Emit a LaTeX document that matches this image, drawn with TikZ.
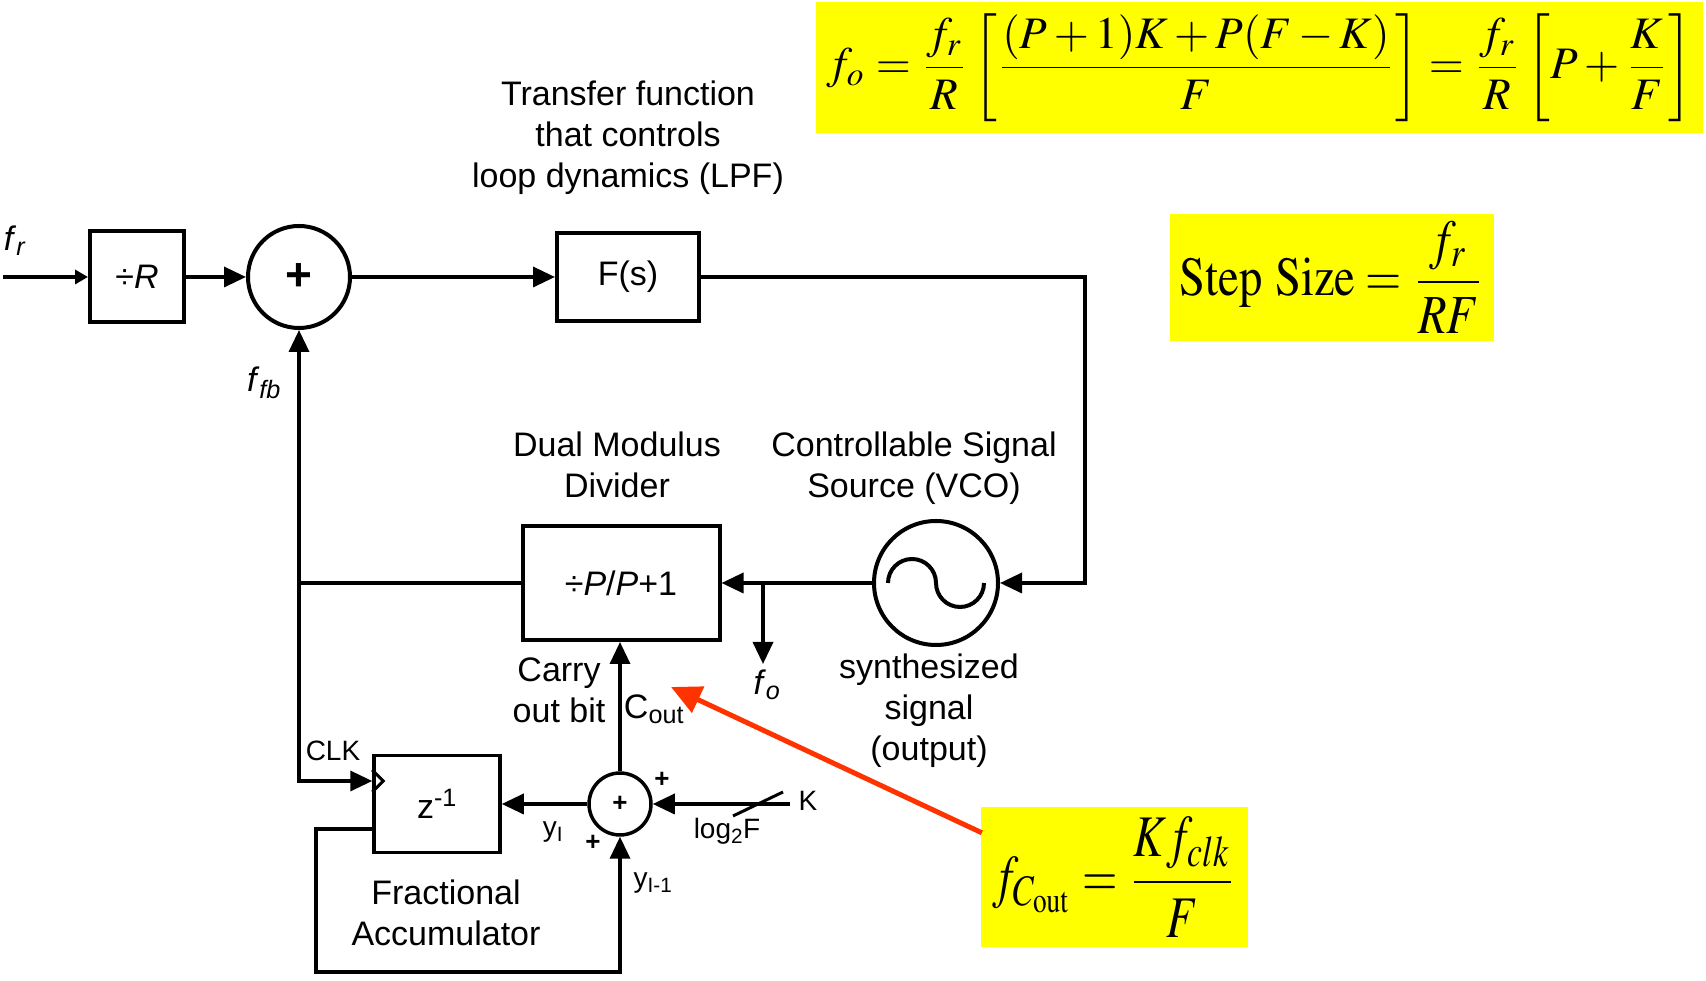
\documentclass[tikz,border=0pt]{standalone}
\usepackage{mathptmx}
\usepackage[no-math]{fontspec}
\setmainfont{Liberation Sans}
\usetikzlibrary{arrows.meta,calc,positioning}
\definecolor{noteyellow}{RGB}{255,255,0}
\definecolor{pointred}{RGB}{255,51,0}
\tikzset{
  blk/.style={rectangle, draw, line width=4pt, inner sep=0pt},
  sumnode/.style={circle, draw, line width=4pt, inner sep=0pt},
  wire/.style={line width=3.5pt},
  sig/.style={wire, -{Triangle[length=22pt,width=20pt]}},
  lbl/.style={font=\fontsize{34}{41}\selectfont, align=center, inner sep=0pt},
  smalllbl/.style={font=\fontsize{28}{32}\selectfont, inner sep=0pt},
  notebox/.style={fill=noteyellow, inner sep=0pt}
}

\begin{document}
\begin{tikzpicture}[x=1pt, y=1pt]
\useasboundingbox (0,0) rectangle (1706,981);
% yellow notes
\node[notebox, minimum width=887pt, minimum height=131pt] (eqfo) at (1259.5,913.5) {\resizebox*{866pt}{108pt}{$\displaystyle f_o=\frac{f_r}{R}\left[\frac{(P+1)K+P(F-K)}{F}\right]=\frac{f_r}{R}\left[P+\frac{K}{F}\right]$}};
\node[notebox, minimum width=324pt, minimum height=127pt] (eqstep) at (1332,703.5) {\resizebox*{305pt}{112pt}{$\displaystyle \mathrm{Step\ Size}=\frac{f_r}{RF}$}};
\node[notebox, minimum width=267pt, minimum height=140pt] (eqcout) at (1114.5,104) {\resizebox*{244pt}{120pt}{$\displaystyle f_{C_{\mathrm{out}}}=\frac{Kf_{clk}}{F}$}};

% blocks
\node[blk, lbl, minimum width=94pt, minimum height=91pt] (divR) at (137,704) {÷\textit{R}};
\node[sumnode, minimum size=102pt] (sum) at (299,704) {\fontsize{46}{46}\selectfont\bfseries +};
\node[blk, lbl, minimum width=142pt, minimum height=88pt] (Fs) at (628,704) {F(s)};
\node[sumnode, minimum size=124pt] (vco) at (936,398) {};
\node[blk, lbl, minimum width=197pt, minimum height=114pt] (div) at (621,398) {÷\textit{P}/\textit{P}+1};
\node[blk, lbl, line width=3.5pt, minimum width=126pt, minimum height=97pt] (zbox) at (437,177) {z\textsuperscript{-1}};
\node[sumnode, line width=3.5pt, minimum size=62pt] (acc) at (620,177) {\fontsize{26}{26}\selectfont\bfseries +};
\draw[line width=4pt] ($(vco.center)+(-48,0)$) arc[start angle=180, end angle=0, radius=24] arc[start angle=180, end angle=360, radius=24];

% free ends and corners
\coordinate (fin) at (3,704);
\coordinate (loopR) at (1085,398);
\coordinate (tap) at (763,398);
\coordinate (foend) at (763,317);
\coordinate (clkin) at ($(zbox.west)+(0,23)$);
\coordinate (zfb) at ($(zbox.west)+(0,-25)$);
\coordinate (kin) at (790,177);
\coordinate (cpoint) at (671,294);

% connectors
\draw[wire, -{Triangle[length=13pt,width=14pt]}] (fin) -- (divR.west);
\draw[sig] (divR.east) -- (sum.west);
\draw[sig] (sum.east) -- (Fs.west);
\draw[sig] (Fs.east) -| (loopR) -- (vco.east);
\draw[sig] (vco.west) -- (div.east);
\draw[sig] (tap) -- (foend);
\draw[sig] (div.west) -| (sum.south);
\draw[sig] (sum.south |- div.west) |- (clkin);
\draw[line width=3pt] ($(clkin)+(0,11)$) -- ++(11,-11) -- ++(-11,-11);
\draw[sig] (acc.west) -- (zbox.east);
\draw[sig] (zfb) -| (316,9) -| (acc.south);
\draw[sig] (kin) -- (acc.east);
\draw[sig] (acc.north) -- (acc.north |- div.south);
\draw[line width=3pt] ($(kin)+(-57,-12)$) -- ++(50,24);
\draw[pointred, line width=5pt, -{Triangle[length=30pt,width=28pt]}] ($(eqcout.north west)+(1,-26)$) -- (cpoint);

% labels
\node[lbl] (frlbl) at (15,740) {\textit{f}\textsubscript{\textit{r}}};
\node[lbl] (fblbl) at (264,598) {\textit{f}\textsubscript{\textit{fb}}};
\node[lbl] (folbl) at (767,296) {\textit{f}\textsubscript{\textit{o}}};
\node[lbl] (tflbl) at (628,843) {Transfer function\\that controls\\loop dynamics (LPF)};
\node[lbl] (dmlbl) at (617,516) {Dual Modulus\\Divider};
\node[lbl] (vcolbl) at (914,513) {Controllable Signal\\Source (VCO)};
\node[lbl] (synlbl) at (929,270) {synthesized\\signal\\(output)};
\node[lbl] (carrylbl) at (559,291) {Carry\\out bit};
\node[lbl] (coutlbl) at (654,272) {C\textsubscript{out}};
\node[lbl] (faclbl) at (446,68) {Fractional\\Accumulator};
\node[smalllbl] (clklbl) at (333,230) {CLK};
\node[smalllbl] (yilbl) at (553,149) {y\textsubscript{I}};
\node[smalllbl] (yi1lbl) at (653,98) {y\textsubscript{I-1}};
\node[smalllbl] (klbl) at (808,180) {K};
\node[smalllbl] (loglbl) at (727,150) {log\textsubscript{2}F};
\node[smalllbl, font=\fontsize{26}{26}\selectfont\bfseries] (plusk) at (662,201) {+};
\node[smalllbl, font=\fontsize{26}{26}\selectfont\bfseries] (plusy) at (593,138) {+};
\end{tikzpicture}
\end{document}
